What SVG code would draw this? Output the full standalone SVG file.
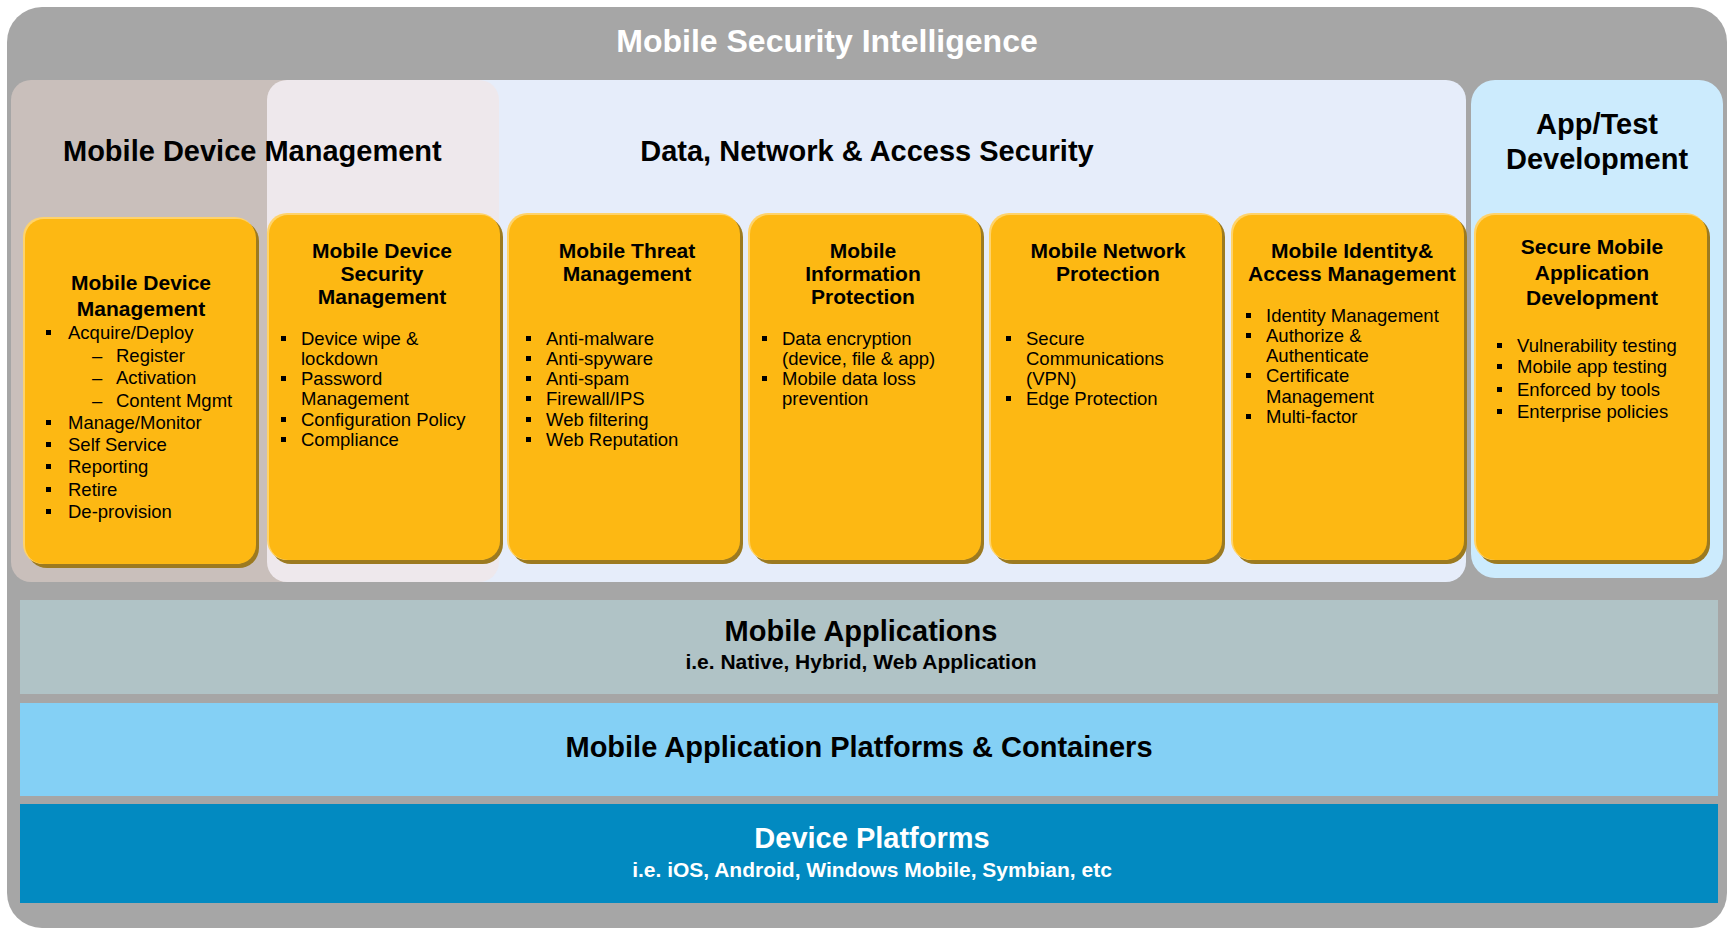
<svg xmlns="http://www.w3.org/2000/svg" xmlns:xlink="http://www.w3.org/1999/xlink" width="1730" height="929" viewBox="0 0 1730 929">
<style>
text{font-family:"Liberation Sans",Arial,Helvetica,sans-serif;fill:#000}
.ttl{font-weight:bold;font-size:32px;fill:#fff;text-anchor:middle}
.h{font-weight:bold;font-size:29px}
.c{text-anchor:middle}
.sub{font-weight:bold;font-size:21px}
.w{fill:#fff}
.ct{font-weight:bold;font-size:21px;text-anchor:middle}
.it{font-size:18.5px}
.sh{fill:#9C7A20}
.hl{fill:#FFD36A}
.mn{fill:#FDB813}
</style>
<defs>
<g id="card">
<rect class="sh" x="4" y="4" width="232" height="347" rx="20"/>
<rect class="hl" x="0" y="0" width="232" height="347" rx="20"/>
<rect class="mn" x="2" y="2" width="231" height="345" rx="19"/>
</g>
<rect id="b" width="5" height="5" fill="#000"/>
</defs>

<g id="background">
<rect x="7" y="7" width="1720" height="921" rx="35" fill="#A6A6A6"/>
<text class="ttl" x="827" y="52">Mobile Security Intelligence</text>
</g>

<g id="panel-dnas">
<rect x="300" y="80" width="1166" height="502" rx="20" fill="#E6EDFA"/>
</g>
<g id="panel-mdm">
<rect x="11" y="80" width="400" height="502" rx="20" fill="#C9BFBB"/>
<rect x="267" y="80" width="232" height="502" rx="20" fill="#EEE8EC"/>
</g>
<g id="panel-app">
<rect x="1471" y="80" width="252" height="498" rx="24" fill="#CCEBFD"/>
</g>
<g id="headings">
<text class="h" x="63" y="161">Mobile Device Management</text>
<text class="h c" x="867" y="161">Data, Network &amp; Access Security</text>
<text class="h c" x="1597" y="134">App/Test</text>
<text class="h c" x="1597" y="169">Development</text>
</g>

<g id="card-mdm">
<use xlink:href="#card" href="#card" x="23" y="217"/>
<text class="ct" x="141" y="290">Mobile Device</text>
<text class="ct" x="141" y="316">Management</text>
<use href="#b" xlink:href="#b" x="46" y="330"/>
<text class="it" x="68" y="339">Acquire/Deploy</text>
<text class="it" x="92" y="362">–</text><text class="it" x="116" y="362">Register</text>
<text class="it" x="92" y="384">–</text><text class="it" x="116" y="384">Activation</text>
<text class="it" x="92" y="407">–</text><text class="it" x="116" y="407">Content Mgmt</text>
<use href="#b" xlink:href="#b" x="46" y="420"/>
<text class="it" x="68" y="429">Manage/Monitor</text>
<use href="#b" xlink:href="#b" x="46" y="442"/>
<text class="it" x="68" y="451">Self Service</text>
<use href="#b" xlink:href="#b" x="46" y="464"/>
<text class="it" x="68" y="473">Reporting</text>
<use href="#b" xlink:href="#b" x="46" y="487"/>
<text class="it" x="68" y="496">Retire</text>
<use href="#b" xlink:href="#b" x="46" y="509"/>
<text class="it" x="68" y="518">De-provision</text>
</g>

<g id="card-mdsm">
<use xlink:href="#card" href="#card" x="267" y="213"/>
<text class="ct" x="382" y="258">Mobile Device</text>
<text class="ct" x="382" y="281">Security</text>
<text class="ct" x="382" y="304">Management</text>
<use href="#b" xlink:href="#b" x="281" y="336"/>
<text class="it" x="301" y="345">Device wipe &amp;</text>
<text class="it" x="301" y="365">lockdown</text>
<use href="#b" xlink:href="#b" x="281" y="376"/>
<text class="it" x="301" y="385">Password</text>
<text class="it" x="301" y="405">Management</text>
<use href="#b" xlink:href="#b" x="281" y="417"/>
<text class="it" x="301" y="426">Configuration Policy</text>
<use href="#b" xlink:href="#b" x="281" y="437"/>
<text class="it" x="301" y="446">Compliance</text>
</g>

<g id="card-mtm">
<use xlink:href="#card" href="#card" x="507" y="213"/>
<text class="ct" x="627" y="258">Mobile Threat</text>
<text class="ct" x="627" y="281">Management</text>
<use href="#b" xlink:href="#b" x="526" y="336"/>
<text class="it" x="546" y="345">Anti-malware</text>
<use href="#b" xlink:href="#b" x="526" y="356"/>
<text class="it" x="546" y="365">Anti-spyware</text>
<use href="#b" xlink:href="#b" x="526" y="376"/>
<text class="it" x="546" y="385">Anti-spam</text>
<use href="#b" xlink:href="#b" x="526" y="396"/>
<text class="it" x="546" y="405">Firewall/IPS</text>
<use href="#b" xlink:href="#b" x="526" y="417"/>
<text class="it" x="546" y="426">Web filtering</text>
<use href="#b" xlink:href="#b" x="526" y="437"/>
<text class="it" x="546" y="446">Web Reputation</text>
</g>

<g id="card-mip">
<use xlink:href="#card" href="#card" x="748" y="213"/>
<text class="ct" x="863" y="258">Mobile</text>
<text class="ct" x="863" y="281">Information</text>
<text class="ct" x="863" y="304">Protection</text>
<use href="#b" xlink:href="#b" x="762" y="336"/>
<text class="it" x="782" y="345">Data encryption</text>
<text class="it" x="782" y="365">(device, file &amp; app)</text>
<use href="#b" xlink:href="#b" x="762" y="376"/>
<text class="it" x="782" y="385">Mobile data loss</text>
<text class="it" x="782" y="405">prevention</text>
</g>

<g id="card-mnp">
<use xlink:href="#card" href="#card" x="989" y="213"/>
<text class="ct" x="1108" y="258">Mobile Network</text>
<text class="ct" x="1108" y="281">Protection</text>
<use href="#b" xlink:href="#b" x="1006" y="336"/>
<text class="it" x="1026" y="345">Secure</text>
<text class="it" x="1026" y="365">Communications</text>
<text class="it" x="1026" y="385">(VPN)</text>
<use href="#b" xlink:href="#b" x="1006" y="396"/>
<text class="it" x="1026" y="405">Edge Protection</text>
</g>

<g id="card-miam">
<use xlink:href="#card" href="#card" x="1231" y="213"/>
<text class="ct" x="1352" y="258">Mobile Identity&amp;</text>
<text class="ct" x="1352" y="281">Access Management</text>
<use href="#b" xlink:href="#b" x="1246" y="313"/>
<text class="it" x="1266" y="322">Identity Management</text>
<use href="#b" xlink:href="#b" x="1246" y="333"/>
<text class="it" x="1266" y="342">Authorize &amp;</text>
<text class="it" x="1266" y="362">Authenticate</text>
<use href="#b" xlink:href="#b" x="1246" y="373"/>
<text class="it" x="1266" y="382">Certificate</text>
<text class="it" x="1266" y="403">Management</text>
<use href="#b" xlink:href="#b" x="1246" y="414"/>
<text class="it" x="1266" y="423">Multi-factor</text>
</g>

<g id="card-smad">
<use xlink:href="#card" href="#card" x="1474" y="213"/>
<text class="ct" x="1592" y="254">Secure Mobile</text>
<text class="ct" x="1592" y="280">Application</text>
<text class="ct" x="1592" y="305">Development</text>
<use href="#b" xlink:href="#b" x="1497" y="343"/>
<text class="it" x="1517" y="352">Vulnerability testing</text>
<use href="#b" xlink:href="#b" x="1497" y="364"/>
<text class="it" x="1517" y="373">Mobile app testing</text>
<use href="#b" xlink:href="#b" x="1497" y="387"/>
<text class="it" x="1517" y="396">Enforced by tools</text>
<use href="#b" xlink:href="#b" x="1497" y="409"/>
<text class="it" x="1517" y="418">Enterprise policies</text>
</g>

<g id="layer-apps">
<rect x="20" y="600" width="1698" height="94" fill="#B0C3C6"/>
<text class="h c" x="861" y="641">Mobile Applications</text>
<text class="sub c" x="861" y="669">i.e. Native, Hybrid, Web Application</text>
</g>
<g id="layer-containers">
<rect x="20" y="703" width="1698" height="93" fill="#84D0F5"/>
<text class="h c" x="859" y="757">Mobile Application Platforms &amp; Containers</text>
</g>
<g id="layer-devices">
<rect x="20" y="804" width="1698" height="99" fill="#028AC1"/>
<text class="h c w" x="872" y="848">Device Platforms</text>
<text class="sub c w" x="872" y="877">i.e. iOS, Android, Windows Mobile, Symbian, etc</text>
</g>

<g id="connectors"/>
</svg>
